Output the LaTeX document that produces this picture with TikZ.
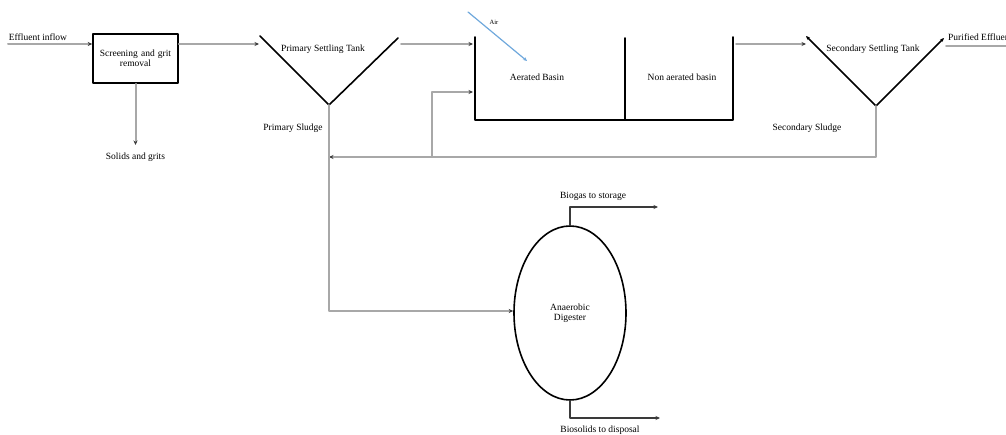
\documentclass[tikz,border=0pt]{standalone}
\usepackage{fontspec}
\setmainfont{Liberation Serif}
\usetikzlibrary{calc,arrows.meta,shapes.geometric}
\definecolor{flow}{HTML}{A8A8A8}
\definecolor{dark}{HTML}{3A3A3A}
\definecolor{air}{HTML}{6FA8DC}
\tikzset{
  every picture/.style={line cap=round, line join=round},
  wall/.style={draw=black, line width=1.6pt},
  pipe/.style={draw=flow, line width=2pt},
  outlet/.style={draw=dark, line width=1.5pt},
  tip/.style={-{Stealth[length=4.5pt,width=4pt,color=dark]}},
  lab/.style={text=black, font=\fontsize{9.5}{10.5}\selectfont, inner sep=1pt}
}

\begin{document}
\begin{tikzpicture}[x=1pt,y=-1pt]
  \useasboundingbox (0,0) rectangle (1006,435);
  \clip (0,0) rectangle (1006,435);

  % screening
  \node[wall, rectangle, minimum width=85pt, minimum height=49pt,
        text width=83pt, align=center, lab] (screen) at (135.5,58.5)
        {Screening and grit\\removal};
  \coordinate (inlet) at (8,44);
  \coordinate (solids) at (135.5,145);
  \node[lab] (inflowlab) at (38,37) {Effluent inflow};
  \node[lab] (solidslab) at (135.5,157) {Solids and grits};

  % primary settling tank
  \coordinate (pstL) at (260,36);
  \coordinate (pstB) at (329,105);
  \coordinate (pstR) at (398,38);
  \coordinate (pstin) at (259,44);
  \coordinate (pstout) at (401,44);
  \node[lab] (pstlab) at (323,49) {Primary Settling Tank};
  \node[lab] (pslab) at (293,128) {Primary Sludge};

  % aeration basin
  \coordinate (abTL) at (475,37);
  \coordinate (abBL) at (475,120);
  \coordinate (abBR) at (733,120);
  \coordinate (abTR) at (733,37);
  \coordinate (abM) at (625,38);
  \coordinate (abMB) at (625,120);
  \coordinate (abin) at (473,44);
  \coordinate (abret) at (473,92);
  \coordinate (about) at (736,44);
  \node[lab] (aerlab) at (537,77) {Aerated Basin};
  \node[lab] (nonlab) at (682,77) {Non aerated basin};
  \coordinate (airA) at (468,12);
  \coordinate (airB) at (527,61);
  \node[lab, font=\fontsize{6.5}{7}\selectfont] (airlab) at (494,22) {Air};

  % secondary settling tank
  \coordinate (sstL) at (806,36);
  \coordinate (sstB) at (876,106);
  \coordinate (sstR) at (944,38);
  \coordinate (sstin) at (806,44);
  \coordinate (effout) at (946,46);
  \coordinate (effend) at (1010,46);
  \node[lab] (sstlab) at (873,49) {Secondary Settling Tank};
  \node[lab, anchor=west] (efflab) at (947,37) {Purified Effluent};
  \node[lab] (sslab) at (807,128) {Secondary Sludge};

  % sludge return
  \coordinate (sstJ) at (876,157);
  \coordinate (pstJ) at (329,157);
  \coordinate (retJ) at (432,157);
  \coordinate (retT) at (432,92);
  \coordinate (digJ) at (329,311);

  % digester
  \node[wall, ellipse, minimum width=112pt, minimum height=174pt,
        align=center, lab] (digest) at (570,313) {Anaerobic\\Digester};
  \coordinate (gasout) at (658,207);
  \coordinate (bioout) at (660,418);
  \node[lab] (gaslab) at (593,196) {Biogas to storage};
  \node[lab] (biolab) at (600,430) {Biosolids to disposal};

  % tanks
  \draw[wall] (pstL) -- (pstB) -- (pstR);
  \draw[wall] (abTL) -- (abBL) -- (abBR) -- (abTR);
  \draw[wall] (abM) -- (abMB);
  \draw[wall, {Stealth[length=4pt,width=3.5pt]}-{Stealth[length=4pt,width=3.5pt]}]
    (sstL) -- (sstB) -- (sstR);

  % flows
  \draw[pipe, tip] (inlet) -- (inlet -| screen.west);
  \draw[pipe, tip] (screen.south) -- (solids);
  \draw[pipe, tip] (screen.east |- pstin) -- (pstin);
  \draw[pipe, tip] (pstout) -- (abin);
  \draw[pipe, tip] (about) -- (sstin);
  \draw[pipe] (effout) -- (effend);
  \draw[air, line width=1.2pt, -{Stealth[length=4pt,width=3.5pt]}] (airA) -- (airB);
  \draw[pipe, tip] (sstB) -- (sstJ) -- (pstJ);
  \draw[pipe, tip] (retJ) -- (retT) -- (abret);
  \draw[pipe] (pstB) -- (pstJ);
  \draw[pipe, tip] (pstJ) -- (digJ) -- (digJ -| digest.west);
  \draw[outlet, tip] (digest.north) |- (gasout);
  \draw[outlet, tip] (digest.south) |- (bioout);
\end{tikzpicture}
\end{document}
